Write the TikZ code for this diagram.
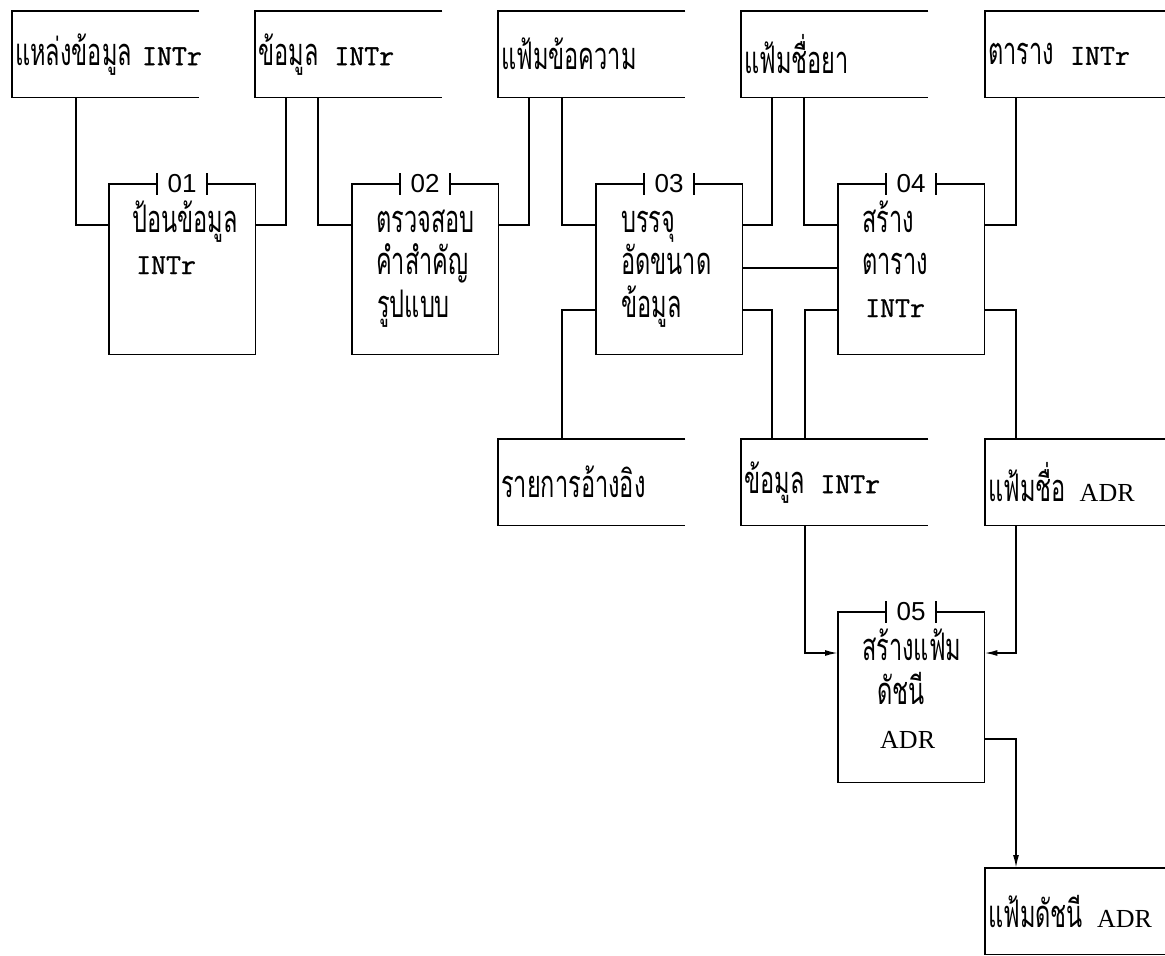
\documentclass[tikz,border=0pt]{standalone}
\usepackage{fontspec}
\newfontfamily\thaifont[Script=Thai, FakeStretch=0.62]{Loma}
\newfontfamily\intrfont[FakeBold=1]{Latin Modern Mono}
\newfontfamily\adrfont{Liberation Serif}
\newfontfamily\numfont{Liberation Sans}
\usetikzlibrary{arrows.meta}

\begin{document}
\begin{tikzpicture}[
    x=1pt, y=-1pt,
    store/.style={rectangle, anchor=north west, minimum width=187pt, minimum height=86pt,
                  text width=181pt, inner xsep=3pt, inner ysep=0pt, align=left,
                  font=\thaifont\fontsize{38}{40}\selectfont},
    proc/.style={rectangle, anchor=north west, minimum width=146pt, minimum height=170pt, inner sep=0pt},
    ptext/.style={anchor=base west, inner sep=0pt, font=\thaifont\fontsize{38}{40}\selectfont},
    num/.style={inner sep=0pt, font=\numfont\fontsize{26}{28}\selectfont},
    flow/.style={line width=1.7pt},
    flowin/.style={flow, -{Latex[length=13pt,width=6pt]}}
]
\useasboundingbox (0,0) rectangle (1165,956);

% Top row of data stores
\node[store] (src) at (12,11) {\mbox{แหล่งข้อมูล\hspace{10pt}{\intrfont\fontsize{29}{31}\selectfont INTr}}};
\node[store] (intrin) at (255,11) {\mbox{ข้อมูล\hspace{16pt}{\intrfont\fontsize{29}{31}\selectfont INTr}}};
\node[store] (msgfile) at (498,11) {แฟ้มข้อความ};
\node[store] (drugfile) at (741,11) {แฟ้มชื่อยา};
\node[store] (intrtab) at (985,11) {\mbox{ตาราง\hspace{16pt}{\intrfont\fontsize{29}{31}\selectfont INTr}}};

% Middle row of data stores
\node[store] (reflist) at (498,439) {รายการอ้างอิง};
\node[store] (intrdata) at (741,439) {\mbox{ข้อมูล\hspace{16pt}{\intrfont\fontsize{29}{31}\selectfont INTr}}};
\node[store] (adrname) at (985,439) {\mbox{แฟ้มชื่อ\hspace{14pt}{\adrfont\fontsize{26}{28}\selectfont ADR}}};

% Output store
\node[store] (adrindex) at (985,868) {\mbox{แฟ้มดัชนี\hspace{14pt}{\adrfont\fontsize{26}{28}\selectfont ADR}}};

% Stores are open on the right
\foreach \s in {src,intrin,msgfile,drugfile,intrtab,reflist,intrdata,adrname,adrindex}
    \draw[flow] (\s.north east) -| (\s.south west) -- (\s.south east);

% Processes
\node[proc] (p1) at (109,184) {};
\node[proc] (p2) at (352,184) {};
\node[proc] (p3) at (596,184) {};
\node[proc] (p4) at (838,184) {};
\node[proc] (p5) at (838,612) {};

% Process frames with their numbers on the top edge
\foreach \p/\n in {p1/01,p2/02,p3/03,p4/04,p5/05} {
    \draw[flow] ([xshift=-25pt]\p.north) -| (\p.south west) -| (\p.north east) -- ([xshift=25pt]\p.north);
    \draw[flow] ([xshift=-25pt,yshift=11pt]\p.north) -- ++(0,22);
    \draw[flow] ([xshift=25pt,yshift=11pt]\p.north) -- ++(0,22);
    \node[num] (n\p) at (\p.north) {\n};
}

% Process texts
\node[ptext] (p1a) at ([xshift=23pt,yshift=-48pt]p1.north west) {ป้อนข้อมูล};
\node[ptext, font=\intrfont\fontsize{29}{31}\selectfont] (p1b) at ([xshift=27pt,yshift=-90pt]p1.north west) {INTr};

\node[ptext] (p2a) at ([xshift=24pt,yshift=-48pt]p2.north west) {ตรวจสอบ};
\node[ptext] (p2b) at ([xshift=24pt,yshift=-90pt]p2.north west) {คำสำคัญ};
\node[ptext] (p2c) at ([xshift=25pt,yshift=-133pt]p2.north west) {รูปแบบ};

\node[ptext] (p3a) at ([xshift=25pt,yshift=-48pt]p3.north west) {บรรจุ};
\node[ptext] (p3b) at ([xshift=25pt,yshift=-90pt]p3.north west) {อัดขนาด};
\node[ptext] (p3c) at ([xshift=25pt,yshift=-133pt]p3.north west) {ข้อมูล};

\node[ptext] (p4a) at ([xshift=24pt,yshift=-48pt]p4.north west) {สร้าง};
\node[ptext] (p4b) at ([xshift=24pt,yshift=-90pt]p4.north west) {ตาราง};
\node[ptext, font=\intrfont\fontsize{29}{31}\selectfont] (p4c) at ([xshift=27pt,yshift=-133pt]p4.north west) {INTr};

\node[ptext] (p5a) at ([xshift=24pt,yshift=-48pt]p5.north west) {สร้างแฟ้ม};
\node[ptext] (p5b) at ([xshift=39pt,yshift=-92pt]p5.north west) {ดัชนี};
\node[ptext, font=\adrfont\fontsize{26}{28}\selectfont] (p5c) at ([xshift=42pt,yshift=-136pt]p5.north west) {ADR};

% Flows of process 01 and 02
\draw[flow] ([xshift=64pt]src.south west) |- ([yshift=-41pt]p1.north west);
\draw[flow] ([yshift=-41pt]p1.north east) -| ([xshift=31pt]intrin.south west);
\draw[flow] ([xshift=63pt]intrin.south west) |- ([yshift=-41pt]p2.north west);
\draw[flow] ([yshift=-41pt]p2.north east) -| ([xshift=31pt]msgfile.south west);

% Flows of process 03
\draw[flow] ([xshift=64pt]msgfile.south west) |- ([yshift=-41pt]p3.north west);
\draw[flow] ([xshift=64pt]reflist.north west) |- ([yshift=-126pt]p3.north west);
\draw[flow] ([yshift=-41pt]p3.north east) -| ([xshift=31pt]drugfile.south west);
\draw[flow] ([yshift=-84pt]p3.north east) -- ([yshift=-84pt]p4.north west);
\draw[flow] ([yshift=-126pt]p3.north east) -| ([xshift=31pt]intrdata.north west);

% Flows of process 04
\draw[flow] ([xshift=63pt]drugfile.south west) |- ([yshift=-41pt]p4.north west);
\draw[flow] ([xshift=64pt]intrdata.north west) |- ([yshift=-126pt]p4.north west);
\draw[flow] ([yshift=-41pt]p4.north east) -| ([xshift=31pt]intrtab.south west);
\draw[flow] ([yshift=-126pt]p4.north east) -| ([xshift=31pt]adrname.north west);

% Flows of process 05
\draw[flowin] ([xshift=64pt]intrdata.south west) |- ([yshift=-41pt]p5.north west);
\draw[flowin] ([xshift=31pt]adrname.south west) |- ([yshift=-41pt]p5.north east);
\draw[flowin] ([yshift=-127pt]p5.north east) -| ([xshift=31pt]adrindex.north west);

\end{tikzpicture}
\end{document}
